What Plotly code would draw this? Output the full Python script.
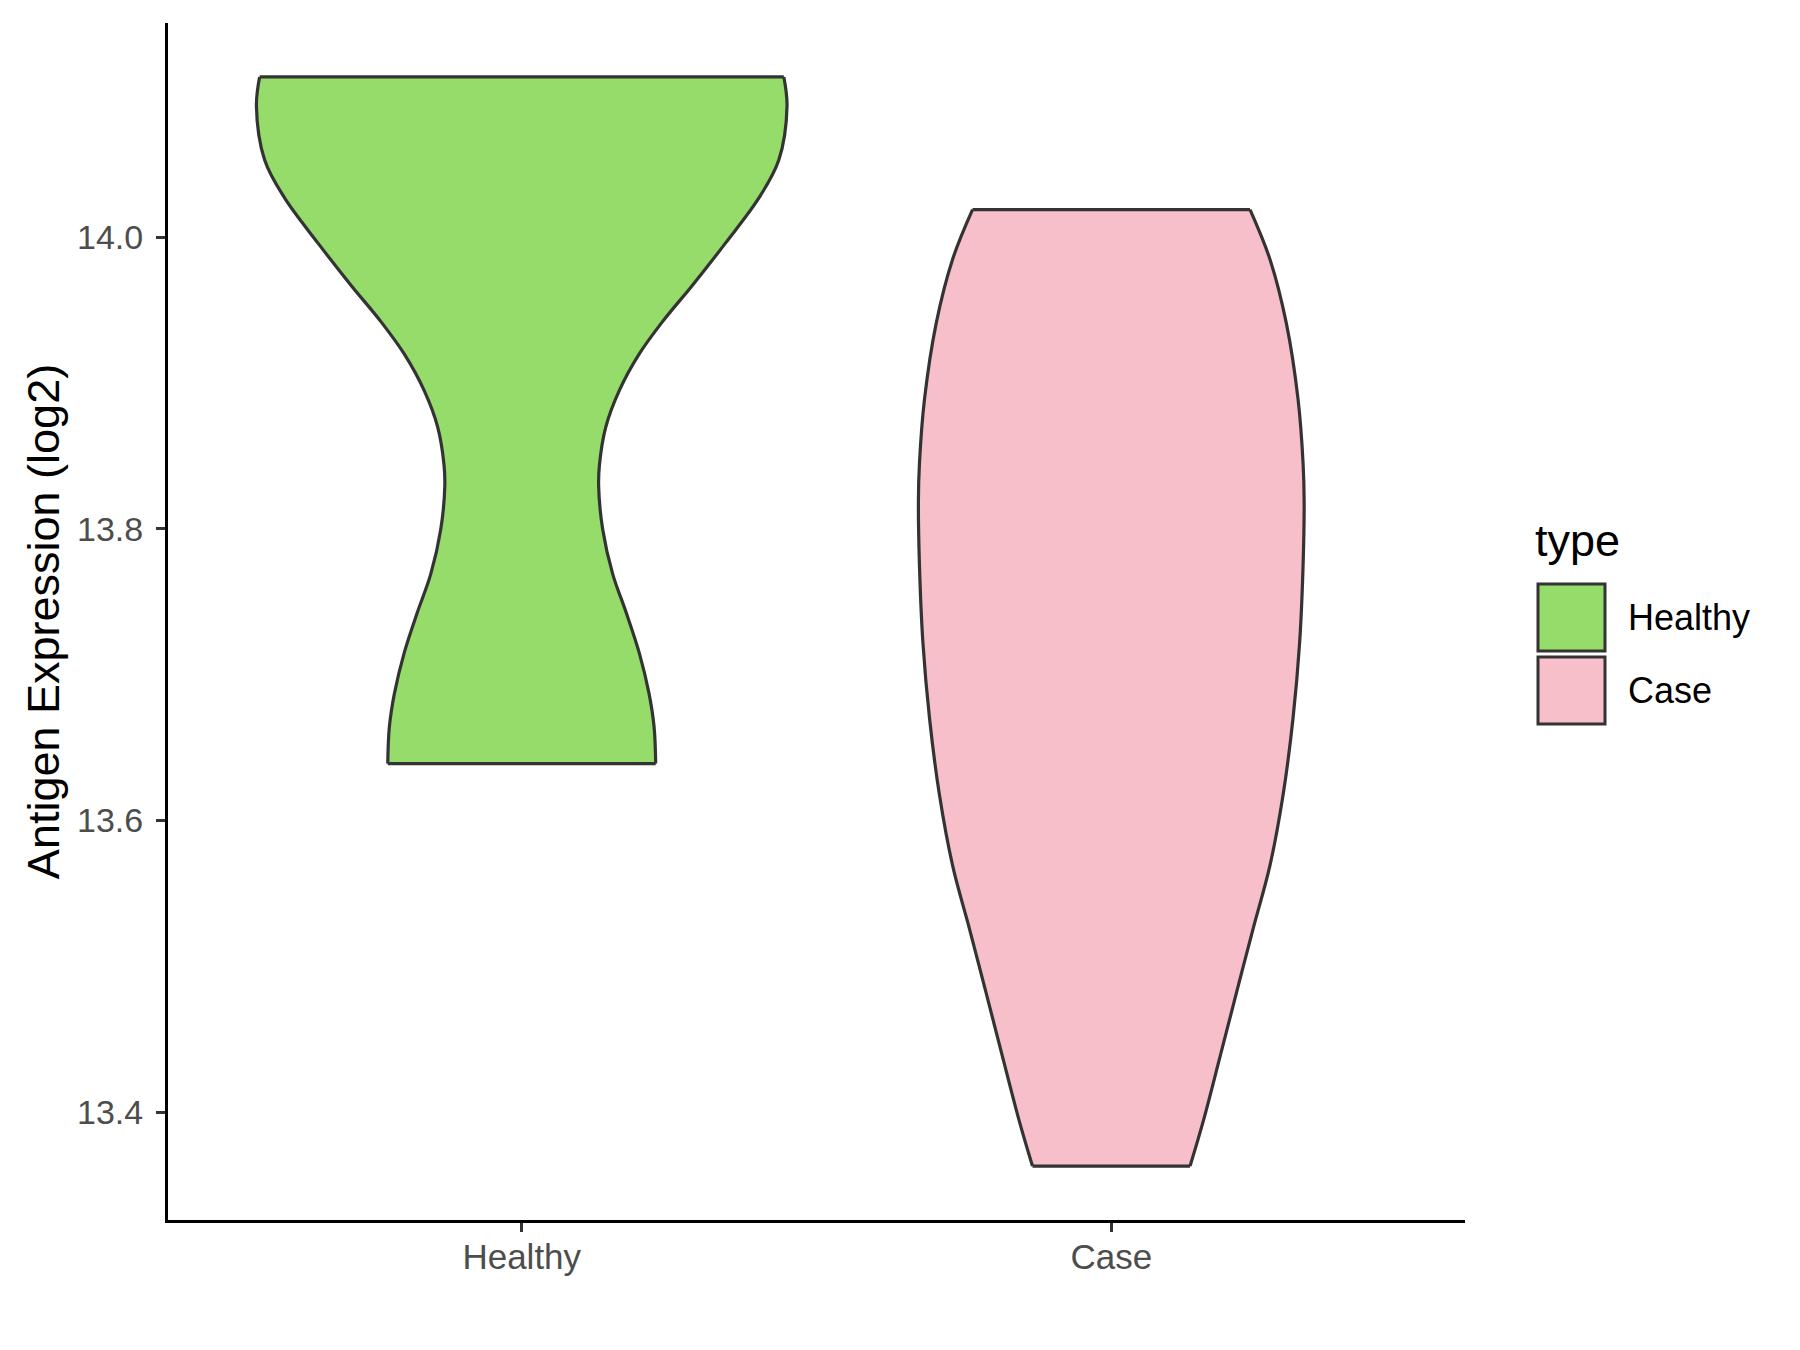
import plotly.graph_objects as go

# Categories and legend
categories = ["Healthy", "Case"]
legend_title = "type"
y_title = "Antigen Expression (log2)"
y_ticks = [13.4, 13.6, 13.8, 14.0]

# Violin density profiles (value, relative density)
healthy_values = [13.639, 13.664, 13.687, 13.715, 13.743, 13.769, 13.800, 13.829,
                  13.844, 13.870, 13.895, 13.920, 13.942, 13.967, 13.996, 14.027,
                  14.053, 14.090, 14.110]
healthy_density = [0.505, 0.499, 0.480, 0.443, 0.393, 0.343, 0.305, 0.290,
                   0.293, 0.317, 0.368, 0.443, 0.530, 0.643, 0.768, 0.894,
                   0.969, 1.000, 0.988]

case_values = [13.363, 13.394, 13.438, 13.482, 13.526, 13.569, 13.618, 13.670,
               13.722, 13.775, 13.819, 13.845, 13.889, 13.941, 13.985, 14.019]
case_density = [0.297, 0.347, 0.410, 0.472, 0.535, 0.598, 0.648, 0.685,
                0.710, 0.723, 0.727, 0.723, 0.704, 0.660, 0.598, 0.523]

fills = ["#95DC6B", "#F7BFCA"]
outline = "#333333"
HALF = 0.45
LW = 3.2

fig = go.Figure()
profiles = [(healthy_values, healthy_density), (case_values, case_density)]
for i, (vals, dens) in enumerate(profiles):
    c = i + 1
    left = [c - HALF * d for d in dens]
    right = [c + HALF * d for d in dens]
    fig.add_trace(go.Scatter(
        x=left, y=vals, mode="lines",
        line=dict(color=outline, width=LW, shape="spline", smoothing=1.0),
        showlegend=False, hoverinfo="skip"))
    fig.add_trace(go.Scatter(
        x=right, y=vals, mode="lines", fill="tonextx", fillcolor=fills[i],
        line=dict(color=outline, width=LW, shape="spline", smoothing=1.0),
        name=categories[i], showlegend=False, hoverinfo="skip"))
    fig.add_trace(go.Scatter(
        x=[left[0], right[0], None, left[-1], right[-1]],
        y=[vals[0], vals[0], None, vals[-1], vals[-1]],
        mode="lines", line=dict(color=outline, width=LW),
        showlegend=False, hoverinfo="skip"))

font_family = "Liberation Sans, Arial, sans-serif"

# page has an 8px body margin; compensate
OFF = 8
plot_l, plot_r, plot_t, plot_b = 168, 1465, 23, 1220
ml, mr, mt, mb = plot_l - OFF, 1800 - plot_r + OFF, plot_t - OFF, 1350 - plot_b + OFF

fig.update_layout(
    width=1800, height=1350,
    paper_bgcolor="white", plot_bgcolor="white",
    margin=dict(l=ml, r=mr, t=mt, b=mb),
    font=dict(family=font_family),
    showlegend=False,
    xaxis=dict(range=[0.4, 2.6], tickvals=[1, 2], ticktext=categories,
               showgrid=False, zeroline=False, showline=True, linecolor="black",
               linewidth=3, ticks="outside", ticklen=9, tickwidth=3,
               ticklabelstandoff=-5,
               tickcolor="#333333", tickfont=dict(size=35, color="#4D4D4D",
                                                   family=font_family)),
    yaxis=dict(range=[13.326, 14.147], tickvals=y_ticks, tickformat=".1f",
               showgrid=False, zeroline=False, showline=True, linecolor="black",
               linewidth=3, ticks="outside", ticklen=9, tickwidth=3,
               ticklabelstandoff=6,
               tickcolor="#333333", tickfont=dict(size=34, color="#4D4D4D",
                                                   family=font_family)),
)
fig.update_yaxes(title=dict(text=y_title, font=dict(size=45, color="black",
                                                    family=font_family),
                            standoff=4))

# Manual legend (ggplot-style keys), positions in page pixels
key_x0, key_w = 1538, 67
key_tops = [584, 657]
pw, ph = plot_r - plot_l, plot_b - plot_t


def px(x):
    return (x - plot_l) / pw


def py(y):
    return (plot_b - y) / ph


fig.add_annotation(x=px(1533), y=py(540), xref="paper", yref="paper", text=legend_title,
                   showarrow=False, xanchor="left", yanchor="middle",
                   font=dict(size=45, color="black", family=font_family))
for i, cat in enumerate(categories):
    t = key_tops[i]
    fig.add_shape(type="rect", xref="paper", yref="paper",
                  x0=px(key_x0), x1=px(key_x0 + key_w), y0=py(t + key_w), y1=py(t),
                  fillcolor=fills[i], line=dict(color=outline, width=3))
    fig.add_annotation(x=px(1626), y=py(t + key_w / 2), xref="paper", yref="paper",
                       text=cat, showarrow=False, xanchor="left", yanchor="middle",
                       font=dict(size=36, color="black", family=font_family))

fig.write_html("out.html")
